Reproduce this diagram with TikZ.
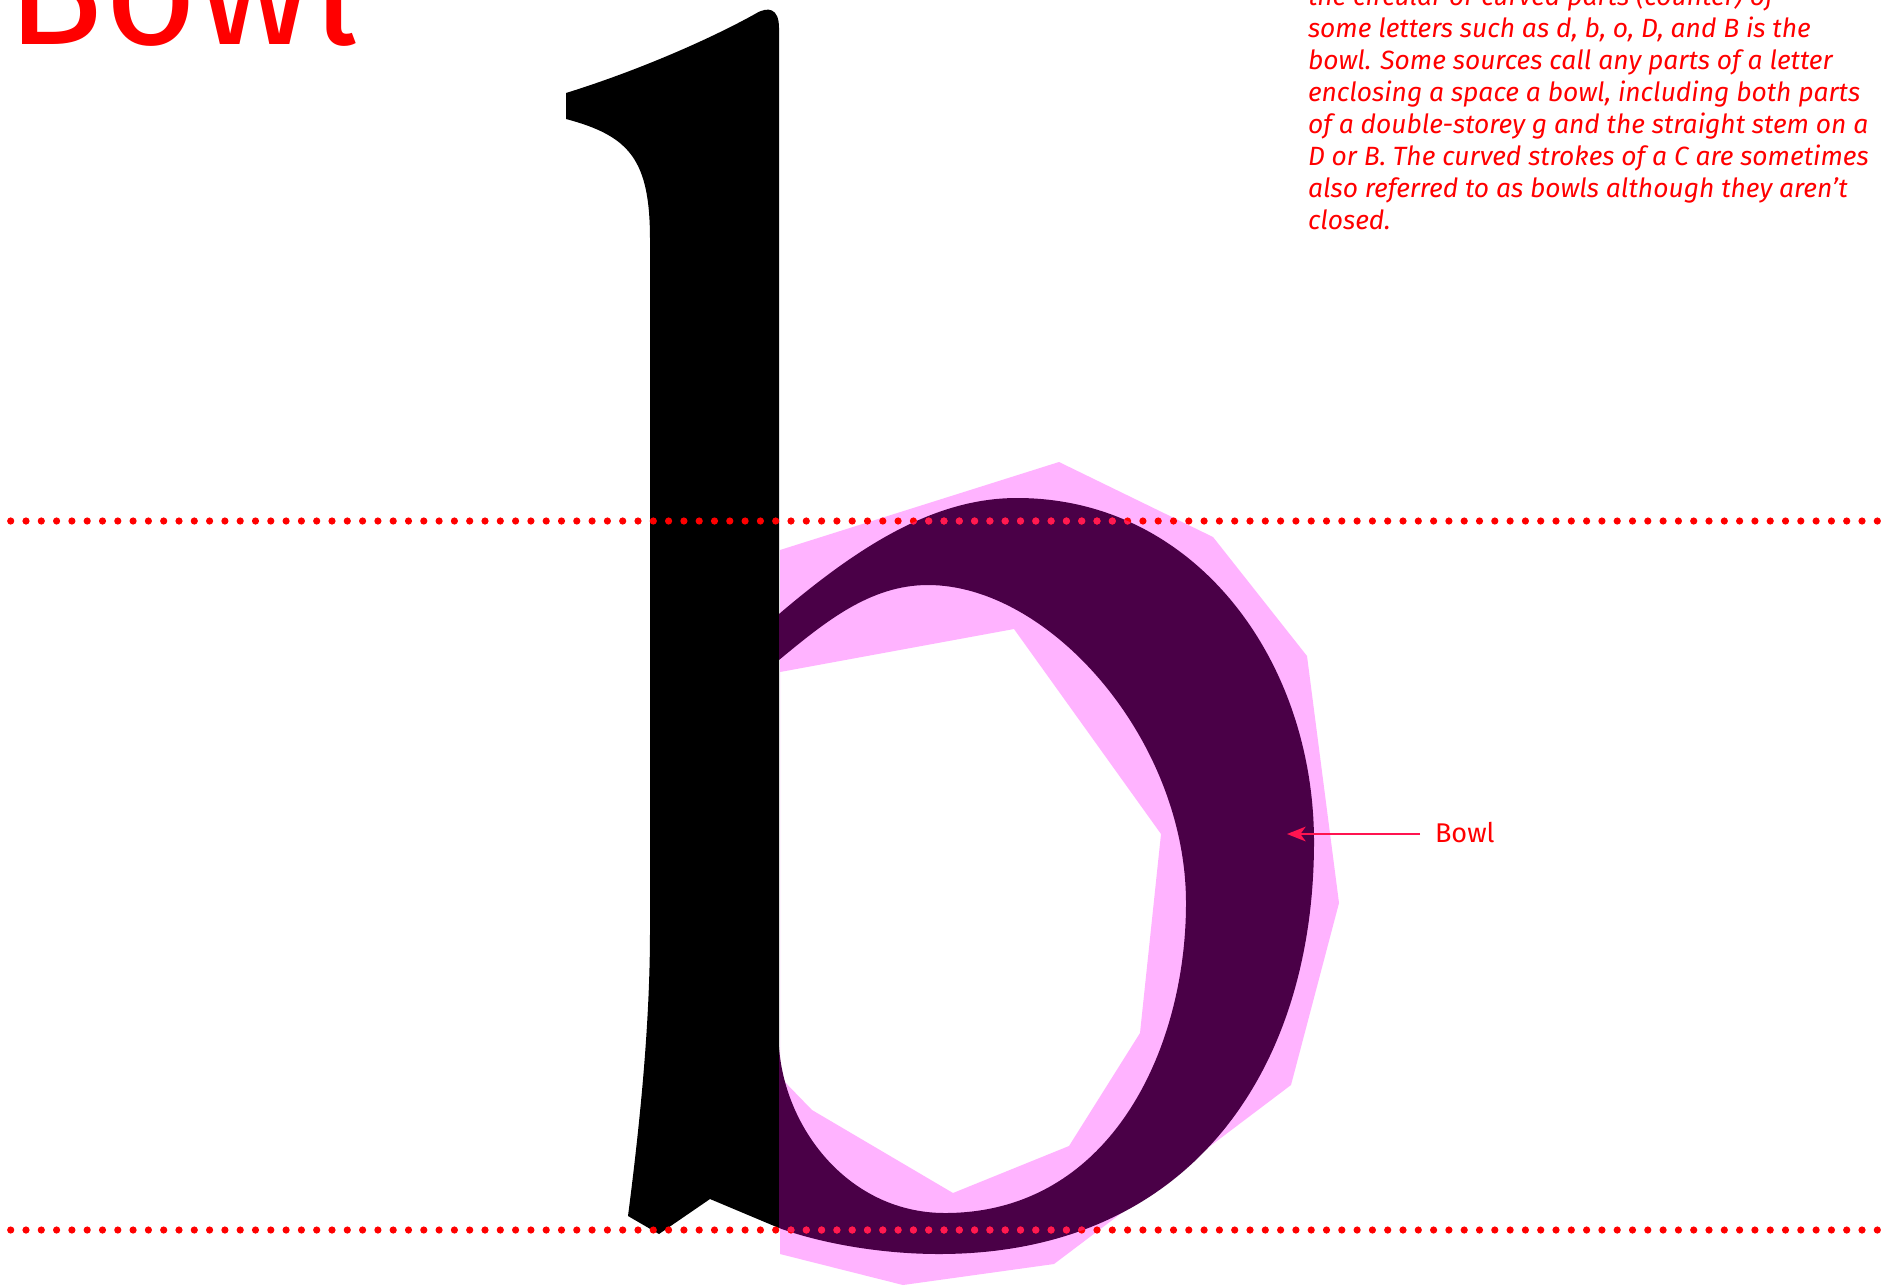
\documentclass[tikz,border=0pt]{standalone}
\usepackage{fontspec}
\setmainfont{Fira Sans}
\usetikzlibrary{arrows.meta}
\definecolor{bowlpurple}{HTML}{4A0047}
\definecolor{bowlpink}{HTML}{FFB3FF}
\definecolor{dotred}{HTML}{FF0000}
\definecolor{dotpink}{HTML}{FF1A52}
\definecolor{arrowred}{HTML}{FF1450}
\definecolor{textred}{HTML}{FF0000}
\tikzset{
  desc/.style={anchor=base west, inner sep=0pt, outer sep=0pt, text=textred,
    font=\itshape\fontsize{19.8pt}{24pt}\selectfont},
  titletext/.style={anchor=base west, inner sep=0pt, outer sep=0pt, text=textred,
    font=\fontsize{120pt}{126pt}\selectfont},
  labeltext/.style={anchor=base west, inner sep=0pt, outer sep=0pt, text=textred,
    font=\fontsize{20.3pt}{24pt}\selectfont},
  pointer/.style={draw=arrowred, line width=1.6pt, -{Stealth[length=14pt,width=11pt,inset=4pt]}},
}
\begin{document}
\begin{tikzpicture}[x=0.75pt,y=-0.75pt]
\useasboundingbox (0,0) rectangle (1887,1286);
\fill[white] (0,0) rectangle (1887,1286);
% black stem
\fill[black] (566,119) -- (566,93)
  .. controls (640,70) and (712,38) .. (755,14)
  .. controls (768,6) and (779,8) .. (779,28)
  -- (779,1228) -- (710,1199) -- (659,1234) -- (628,1216)
  .. controls (643,1100) and (650,1010) .. (650,930)
  -- (650,240)
  .. controls (650,160) and (630,136) .. (566,119) -- cycle;
% pink polygon with hole
\fill[bowlpink, even odd rule]
  (780,550) -- (1059,462) -- (1213,537) -- (1307,656) -- (1339,903) -- (1291,1085)
  -- (1054,1264) -- (903,1285) -- (780,1254) -- cycle
  (780,672) -- (1014,629) -- (1161,834) -- (1140,1033) -- (1069,1146) -- (953,1193)
  -- (812,1110) -- (780,1077) -- cycle;
% purple bowl
\path[save path=\bowlp] (779,614)
  .. controls (860,545) and (935,498) .. (1017,498)
  .. controls (1195,498) and (1314,660) .. (1314,842)
  .. controls (1314,1070) and (1190,1254) .. (939,1254)
  .. controls (880,1254) and (820,1243) .. (779,1228)
  -- (779,1047)
  .. controls (785,1130) and (850,1213) .. (945,1213)
  .. controls (1110,1213) and (1186,1050) .. (1186,903)
  .. controls (1186,740) and (1050,585) .. (928,585)
  .. controls (870,585) and (825,622) .. (779,660) -- cycle;
\fill[bowlpurple, use path=\bowlp];
% dotted guide lines
\foreach \i in {0,...,122} {
  \fill[dotred] (10.7+15.3*\i,521) circle[radius=2.7pt];
  \fill[dotred] (10.7+15.3*\i,1230) circle[radius=2.7pt];
}
\begin{scope}
\clip[use path=\bowlp];
\foreach \i in {0,...,122} {
  \fill[dotpink] (10.7+15.3*\i,521) circle[radius=2.7pt];
  \fill[dotpink] (10.7+15.3*\i,1230) circle[radius=2.7pt];
}
\end{scope}
% title
\node[titletext] (title) at (7,44) {Bowl};
% description
\node[desc] (d1) at (1308,5.5) {the circular or curved parts (counter) of};
\node[desc] (d2) at (1308,37.5) {some letters such as d, b, o, D, and B is the};
\node[desc] (d3) at (1308,69.5) {bowl. Some sources call any parts of a letter};
\node[desc] (d4) at (1308,101.5) {enclosing a space a bowl, including both parts};
\node[desc] (d5) at (1308,133.5) {of a double-storey g and the straight stem on a};
\node[desc] (d6) at (1308,165.5) {D or B. The curved strokes of a C are sometimes};
\node[desc] (d7) at (1308,197.5) {also referred to as bowls although they aren’t};
\node[desc] (d8) at (1308,229.5) {closed.};
% label and arrow
\node[labeltext] (lbl) at (1435,842) {Bowl};
\coordinate (arrtail) at (1420,834);
\coordinate (arrtip) at (1287,834);
\draw[pointer] (arrtail) -- (arrtip);
\end{tikzpicture}
\end{document}
